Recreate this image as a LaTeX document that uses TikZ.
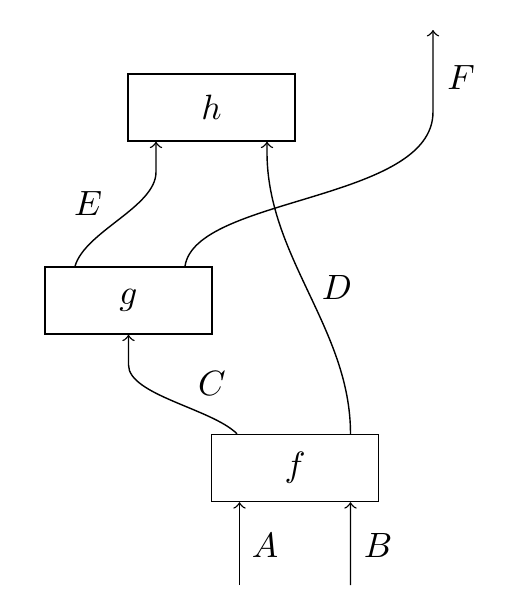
\documentclass[tikz,border=0pt]{standalone}
\usepackage{amsmath,amssymb}

\begin{document}
\begin{tikzpicture}[
    morph/.style={draw, rectangle, minimum width=1.67cm, minimum height=0.67cm, inner sep=0pt},
    wire/.style={draw, line width=0.4pt},
    lbl/.style={inner sep=0pt},
  ]
  \useasboundingbox (0,0) rectangle (5.06,6.02);

  % ---- boxes
  \node[morph] (h) at (2.115,4.945) {$h$};
  \node[morph] (g) at (1.285,3.015) {$g$};
  \node[morph] (f) at (2.95,1.34)   {$f$};

  % ---- free ends and bends
  \coordinate (inA) at (2.395,0.17);
  \coordinate (inB) at (3.505,0.17);
  \coordinate (outF) at (4.33,5.72);
  \coordinate (bendF) at (4.33,4.90);
  \coordinate (bendC) at (1.285,2.37);
  \coordinate (bendE) at (1.56,4.30);
  \coordinate (bendD) at (2.67,4.50);

  % ---- inputs of f
  \draw[wire, ->] (inA) -- ([xshift=-0.555cm]f.south);
  \draw[wire, ->] (inB) -- ([xshift=0.555cm]f.south);

  % ---- f to g and h
  \draw[wire, ->] ([xshift=-0.58cm]f.north) .. controls +(-0.25,0.25) and +(0,-0.3) .. (bendC) -- (g.south);
  \draw[wire, ->] ([xshift=0.555cm]f.north) .. controls +(0,1.05) and +(0,-1.05) .. (bendD) -- ([xshift=0.555cm]h.south);

  % ---- g to h and out
  \draw[wire, ->] ([xshift=-0.535cm]g.north) .. controls +(0.1,0.35) and +(0,-0.35) .. (bendE) -- ([xshift=-0.555cm]h.south);
  \draw[wire, ->] ([xshift=0.565cm]g.north) .. controls +(0.1,0.7) and +(0,-0.9) .. (bendF) -- (outF);

  % ---- labels
  \node[lbl] (lA) at (2.65,0.57) {$A$};
  \node[lbl] (lB) at (3.78,0.57) {$B$};
  \node[lbl] (lC) at (2.12,2.19) {$C$};
  \node[lbl] (lD) at (3.37,3.15) {$D$};
  \node[lbl] (lE) at (0.88,3.99) {$E$};
  \node[lbl] (lF) at (4.61,5.25) {$F$};
\end{tikzpicture}
\end{document}
